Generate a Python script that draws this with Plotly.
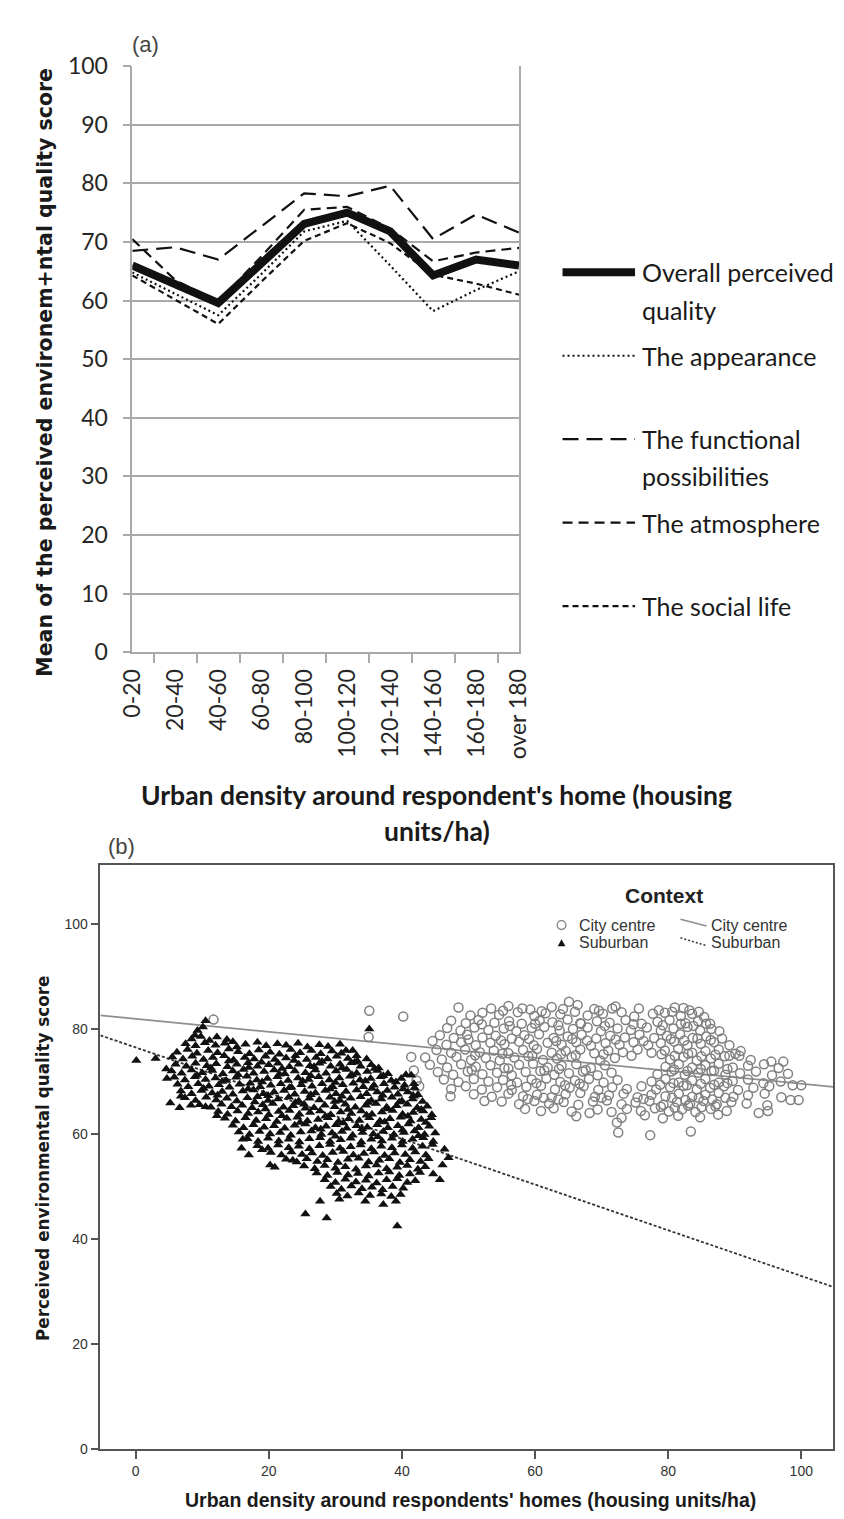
import plotly.graph_objects as go

W, H = 844, 1519

# ---------------- Panel (a) data ----------------
categories = ["0-20", "20-40", "40-60", "60-80", "80-100", "100-120",
              "120-140", "140-160", "160-180", "over 180"]
overall = [66.0, 62.9, 59.6, 66.3, 73.1, 75.0, 71.8, 64.3, 67.0, 66.0]
appearance = [64.8, 61.1, 57.5, 64.5, 71.8, 73.6, 66.0, 58.2, 61.8, 65.0]
functional = [68.5, 69.1, 67.0, 72.7, 78.3, 77.8, 79.6, 70.5, 74.7, 71.6]
atmosphere = [70.5, 63.5, 59.8, 67.5, 75.5, 76.0, 72.3, 66.7, 68.2, 69.0]
social_life = [64.3, 60.1, 56.0, 63.2, 70.2, 73.2, 69.8, 64.4, 62.9, 61.0]
y_ticks_a = [0, 10, 20, 30, 40, 50, 60, 70, 80, 90, 100]

# ---------------- Panel (b) data ----------------
x_ticks_b = [0, 20, 40, 60, 80, 100]
y_ticks_b = [0, 20, 40, 60, 80, 100]
fit_x = [-5.3, 104.8]
city_fit_y = [82.6, 69.0]
suburb_fit_y = [78.8, 30.9]

suburban_pts = [
    (0.1, 74.0), (3.0, 74.4), (10.5, 81.6), (9.3, 79.7), (8.9, 78.8), (10.1, 80.4), (35.1, 80.0),
    (4.6, 72.4), (4.7, 70.6), (5.2, 65.9), (6.8, 67.2), (6.6, 65.0), (8.3, 65.5), (10.5, 65.2), (12.2, 63.5),
    (16.1, 59.0), (15.9, 57.3), (17.0, 56.0), (19.0, 57.0), (20.2, 54.1), (20.9, 53.7), (23.6, 55.0),
    (25.5, 44.8), (28.7, 44.0), (27.7, 47.2), (30.6, 47.6), (34.5, 47.2), (37.2, 46.6), (39.1, 47.2), (39.3, 42.5),
    (44.7, 52.4), (45.7, 51.3), (46.1, 54.1), (46.4, 57.1), (41.4, 71.2), (41.8, 69.6), (47.0, 55.5),
    (8.4, 78.1), (9.8, 78.6), (11.1, 77.8), (12.2, 78.5), (13.7, 78.0), (14.6, 77.6),
    (7.5, 77.2), (9.0, 76.8), (10.4, 77.4), (12.0, 76.9), (13.4, 77.3), (15.2, 76.6), (16.5, 77.1), (18.3, 77.5),
    (19.6, 76.8), (21.3, 77.2), (22.6, 76.9), (24.4, 77.3), (25.8, 76.6), (27.6, 77.0), (28.9, 76.7), (30.7, 77.1), (31.6, 75.9),
    (6.2, 75.6), (7.8, 76.1), (9.2, 75.4), (10.9, 75.9), (12.3, 75.5), (14.0, 76.2), (15.4, 75.7), (17.1, 75.3),
    (18.5, 76.0), (20.2, 75.6), (21.6, 75.2), (23.3, 76.1), (24.7, 75.5), (26.4, 75.9), (27.8, 75.3), (29.5, 75.8),
    (30.9, 75.4), (32.6, 75.9), (33.2, 74.9),
    (5.5, 74.7), (7.1, 74.3), (8.5, 74.8), (10.2, 74.2), (11.6, 74.6), (13.3, 74.9), (14.7, 74.1), (16.4, 74.6),
    (17.8, 74.3), (19.5, 74.8), (20.9, 74.2), (22.6, 74.5), (24.0, 74.9), (25.7, 74.2), (27.1, 74.6), (28.8, 74.3),
    (30.2, 74.8), (31.9, 74.4), (33.3, 73.9), (34.7, 74.3),
    (14.0, 73.9), (18.9, 73.7), (23.8, 74.0), (28.0, 73.8), (32.9, 73.7),
    (6.0, 73.3), (7.6, 72.9), (9.0, 73.5), (10.7, 73.0), (12.1, 73.4), (13.8, 72.8), (15.2, 73.3), (16.9, 73.6),
    (18.3, 72.9), (20.0, 73.2), (21.4, 73.5), (23.1, 72.8), (24.5, 73.3), (26.2, 73.0), (27.6, 73.5), (29.3, 72.9),
    (30.7, 73.3), (32.4, 73.6), (33.8, 72.9), (35.4, 73.2), (36.5, 72.6),
    (11.3, 72.6), (17.0, 72.7), (22.0, 72.5), (26.8, 72.8), (31.0, 72.6), (35.9, 72.5),
    (5.4, 72.0), (6.9, 71.6), (8.4, 72.2), (10.0, 71.7), (11.5, 72.1), (13.1, 71.5), (14.6, 72.0), (16.2, 72.3),
    (17.7, 71.6), (19.3, 71.9), (20.8, 72.2), (22.4, 71.5), (23.9, 72.0), (25.5, 71.7), (27.0, 72.2), (28.6, 71.6),
    (30.1, 72.0), (31.7, 72.3), (33.2, 71.6), (34.8, 71.9), (36.3, 72.1), (37.9, 71.5),
    (9.2, 71.2), (15.4, 71.3), (21.6, 71.4), (26.3, 71.1), (32.5, 71.3), (37.2, 71.1),
    (5.8, 70.8), (7.4, 70.3), (8.9, 70.9), (10.5, 70.4), (12.0, 70.7), (13.6, 70.2), (15.1, 70.8), (16.7, 71.0),
    (18.2, 70.3), (19.8, 70.6), (21.3, 70.9), (22.9, 70.2), (24.4, 70.7), (26.0, 70.4), (27.5, 70.9), (29.1, 70.3),
    (30.6, 70.7), (32.2, 71.0), (33.7, 70.3), (35.3, 70.6), (36.8, 70.9), (38.4, 70.2), (39.9, 70.6), (40.6, 71.3),
    (13.0, 70.0), (19.0, 69.9), (25.1, 70.1), (30.0, 69.8), (34.5, 70.1), (39.1, 69.9),
    (6.3, 69.5), (7.9, 69.0), (9.4, 69.6), (11.0, 69.1), (12.5, 69.4), (14.1, 68.9), (15.6, 69.5), (17.2, 69.7),
    (18.7, 69.0), (20.3, 69.3), (21.8, 69.6), (23.4, 68.9), (24.9, 69.4), (26.5, 69.1), (28.0, 69.6), (29.6, 69.0),
    (31.1, 69.4), (32.7, 69.7), (34.2, 69.0), (35.8, 69.3), (37.3, 69.6), (38.9, 68.9), (40.4, 69.3), (41.9, 68.8),
    (10.2, 68.7), (16.9, 68.6), (23.1, 68.8), (29.2, 68.6), (35.5, 68.7), (40.2, 68.6),
    (6.8, 68.2), (8.4, 67.7), (9.9, 68.3), (11.5, 67.8), (13.0, 68.1), (14.6, 67.6), (16.1, 68.2), (17.7, 68.4),
    (19.2, 67.7), (20.8, 68.0), (22.3, 68.3), (23.9, 67.6), (25.4, 68.1), (27.0, 67.8), (28.5, 68.3), (30.1, 67.7),
    (31.6, 68.1), (33.2, 68.4), (34.7, 67.7), (36.3, 68.0), (37.8, 68.3), (39.4, 67.6), (40.9, 68.0), (42.4, 67.5),
    (12.3, 67.4), (19.9, 67.3), (26.3, 67.5), (31.0, 67.2), (37.1, 67.4), (41.7, 67.3),
    (7.4, 66.9), (9.0, 66.4), (10.6, 67.0), (12.1, 66.5), (13.7, 66.8), (15.2, 66.3), (16.8, 66.9), (18.3, 67.1),
    (19.9, 66.4), (21.4, 66.7), (23.0, 67.0), (24.5, 66.3), (26.1, 66.8), (27.6, 66.5), (29.2, 67.0), (30.7, 66.4),
    (32.3, 66.8), (33.8, 67.1), (35.4, 66.4), (36.9, 66.7), (38.5, 67.0), (40.0, 66.3), (41.6, 66.7), (43.1, 66.2),
    (17.9, 66.1), (24.0, 66.0), (29.9, 66.2), (34.9, 66.0), (39.6, 66.1),
    (9.6, 65.6), (11.3, 65.1), (12.9, 65.7), (14.4, 65.2), (16.0, 65.5), (17.5, 65.0), (19.1, 65.6), (20.6, 65.8),
    (22.2, 65.1), (23.7, 65.4), (25.3, 65.7), (26.8, 65.0), (28.4, 65.5), (29.9, 65.2), (31.5, 65.7), (33.0, 65.1),
    (34.6, 65.5), (36.1, 65.8), (37.7, 65.1), (39.2, 65.4), (40.8, 65.7), (42.3, 65.0), (43.8, 65.3),
    (19.5, 64.8), (25.5, 64.9), (31.9, 64.7), (37.9, 64.8), (42.9, 64.7),
    (12.4, 64.3), (13.8, 63.8), (15.3, 64.4), (16.9, 63.9), (18.4, 64.2), (20.0, 63.7), (21.5, 64.3), (23.1, 64.5),
    (24.6, 63.8), (26.2, 64.1), (27.7, 64.4), (29.3, 63.7), (30.8, 64.2), (32.4, 63.9), (33.9, 64.4), (35.5, 63.8),
    (37.0, 64.2), (38.6, 64.5), (40.1, 63.8), (41.7, 64.1), (43.2, 64.4), (44.5, 63.7),
    (22.0, 63.5), (28.5, 63.4), (34.7, 63.6), (40.9, 63.4),
    (13.4, 63.0), (15.0, 62.5), (16.5, 63.1), (18.1, 62.6), (19.6, 62.9), (21.2, 62.4), (22.7, 63.0), (24.3, 63.2),
    (25.8, 62.5), (27.4, 62.8), (28.9, 63.1), (30.5, 62.4), (32.0, 62.9), (33.6, 62.6), (35.1, 63.1), (36.7, 62.5),
    (38.2, 62.9), (39.8, 63.2), (41.3, 62.5), (42.9, 62.8), (44.4, 63.1),
    (24.7, 62.2), (31.2, 62.1), (37.4, 62.3), (43.6, 62.2),
    (14.6, 61.7), (16.2, 61.2), (17.7, 61.8), (19.3, 61.3), (20.8, 61.6), (22.4, 61.1), (23.9, 61.7), (25.5, 61.9),
    (27.0, 61.2), (28.6, 61.5), (30.1, 61.8), (31.7, 61.1), (33.2, 61.6), (34.8, 61.3), (36.3, 61.8), (37.9, 61.2),
    (39.4, 61.6), (41.0, 61.9), (42.5, 61.2), (44.1, 61.5),
    (27.8, 60.9), (34.0, 61.0), (40.1, 60.8),
    (15.5, 60.4), (17.1, 59.9), (18.6, 60.5), (20.2, 60.0), (21.7, 60.3), (23.3, 59.8), (24.8, 60.4), (26.4, 60.6),
    (27.9, 59.9), (29.5, 60.2), (31.0, 60.5), (32.6, 59.8), (34.1, 60.3), (35.7, 60.0), (37.2, 60.5), (38.8, 59.9),
    (40.3, 60.3), (41.9, 60.6), (43.4, 59.9), (45.0, 60.2),
    (30.0, 59.6), (36.4, 59.5), (42.5, 59.7),
    (16.8, 59.1), (18.4, 58.6), (19.9, 59.2), (21.5, 58.7), (23.0, 59.0), (24.6, 58.5), (26.1, 59.1), (27.7, 59.3),
    (29.2, 58.6), (30.8, 58.9), (32.3, 59.2), (33.9, 58.5), (35.4, 59.0), (37.0, 58.7), (38.5, 59.2), (40.1, 58.6),
    (41.6, 59.0), (43.2, 59.3), (44.7, 58.6),
    (18.3, 57.8), (19.9, 57.3), (21.4, 57.9), (23.0, 57.4), (24.5, 57.7), (26.1, 57.2), (27.6, 57.8), (29.2, 58.0),
    (30.7, 57.3), (32.3, 57.6), (33.8, 57.9), (35.4, 57.2), (36.9, 57.7), (38.5, 57.4), (40.0, 57.9), (41.6, 57.3),
    (43.1, 57.7), (44.6, 58.0),
    (20.3, 56.5), (21.9, 56.0), (23.4, 56.6), (25.0, 56.1), (26.5, 56.4), (28.1, 55.9), (29.6, 56.5), (31.2, 56.7),
    (32.7, 56.0), (34.3, 56.3), (35.8, 56.6), (37.4, 55.9), (38.9, 56.4), (40.5, 56.1), (42.0, 56.6), (43.6, 56.0),
    (22.6, 55.2), (24.2, 54.7), (25.7, 55.3), (27.3, 54.8), (28.8, 55.1), (30.4, 54.6), (31.9, 55.2), (33.5, 55.4),
    (35.0, 54.7), (36.6, 55.0), (38.1, 55.3), (39.7, 54.6), (41.2, 55.1), (42.8, 54.8), (44.0, 55.3),
    (25.3, 53.9), (26.9, 53.4), (28.4, 54.0), (30.0, 53.5), (31.5, 53.8), (33.1, 53.3), (34.6, 53.9), (36.2, 54.1),
    (37.7, 53.4), (39.3, 53.7), (40.8, 54.0), (42.4, 53.3), (43.5, 53.8),
    (27.2, 52.6), (28.8, 52.1), (30.3, 52.7), (31.9, 52.2), (33.4, 52.5), (35.0, 52.0), (36.5, 52.6), (38.1, 52.8),
    (39.6, 52.1), (41.2, 52.4), (42.7, 52.7),
    (28.4, 51.3), (30.0, 50.8), (31.5, 51.4), (33.1, 50.9), (34.6, 51.2), (36.2, 50.7), (37.7, 51.3), (39.3, 51.5),
    (40.8, 50.8), (42.0, 51.1),
    (29.3, 50.0), (30.9, 49.5), (32.4, 50.1), (34.0, 49.6), (35.5, 49.9), (37.1, 49.4), (38.6, 50.0), (40.2, 49.7),
    (30.2, 48.7), (31.8, 48.2), (33.5, 48.8), (35.2, 48.3), (36.9, 48.6), (38.4, 48.1), (39.8, 48.5),
]

city_pts = [
    (11.7, 81.8), (35.1, 83.5), (35.0, 78.5), (40.2, 82.4), (41.4, 74.7),
    (48.5, 84.1), (53.4, 83.9), (56.0, 84.4), (59.3, 83.7), (62.5, 84.2), (65.1, 85.2), (66.4, 84.6), (68.9, 83.8),
    (72.1, 84.3), (75.6, 83.9), (80.6, 83.3), (82.3, 84.0), (84.6, 83.3),
    (55.2, 83.5), (58.1, 83.9), (61.0, 83.4), (64.2, 83.8), (69.6, 83.5), (71.6, 83.9), (78.6, 83.6), (81.0, 84.1), (83.2, 83.6),
    (50.3, 82.6), (52.1, 83.1), (54.6, 82.7), (57.4, 83.2), (59.9, 82.5), (61.6, 83.0), (63.8, 82.8), (66.0, 83.3),
    (67.9, 82.6), (70.2, 82.9), (73.0, 83.2), (74.9, 82.4), (77.7, 82.9), (79.5, 83.1), (81.9, 82.5), (83.6, 82.9), (85.4, 82.3),
    (47.4, 81.6), (49.6, 81.1), (51.5, 81.7), (53.9, 81.2), (56.1, 81.5), (58.0, 81.0), (60.7, 81.6), (62.6, 81.3),
    (64.9, 81.8), (66.8, 81.1), (69.3, 81.5), (71.2, 81.2), (73.6, 81.7), (76.0, 81.0), (78.4, 81.4), (80.2, 81.7),
    (82.6, 81.1), (84.5, 81.5), (86.3, 81.0), (87.7, 79.6),
    (52.0, 80.9), (56.2, 80.6), (60.0, 81.0), (63.5, 80.7), (66.9, 81.0), (70.5, 80.6), (74.8, 80.9), (79.2, 80.7),
    (81.9, 81.0), (83.8, 80.6), (85.7, 81.0),
    (46.8, 80.2), (48.8, 79.7), (50.9, 80.3), (53.0, 79.8), (55.3, 80.1), (57.2, 79.6), (59.5, 80.2), (61.4, 80.4),
    (63.7, 79.7), (65.7, 80.0), (67.9, 80.3), (69.9, 79.6), (72.4, 80.1), (74.4, 79.8), (76.8, 80.3), (78.9, 79.7),
    (80.8, 80.1), (82.9, 80.4), (84.8, 79.7), (86.5, 80.0),
    (45.7, 78.8), (47.8, 78.3), (49.8, 78.9), (52.1, 78.4), (54.1, 78.7), (56.5, 78.2), (58.4, 78.8), (60.6, 79.0),
    (62.8, 78.3), (64.9, 78.6), (67.0, 78.9), (69.2, 78.2), (71.3, 78.7), (73.5, 78.4), (75.7, 78.9), (77.9, 78.3),
    (79.8, 78.7), (81.8, 79.0), (83.7, 78.3), (85.7, 78.6), (88.1, 78.2),
    (50.0, 78.0), (54.9, 77.8), (59.1, 78.1), (63.2, 77.7), (65.6, 78.1), (67.8, 77.8), (72.1, 78.0), (76.3, 77.7),
    (80.4, 78.1), (82.4, 77.8), (84.4, 78.2), (86.4, 77.9),
    (44.6, 77.7), (46.7, 77.0), (48.9, 77.5), (51.1, 76.9), (53.3, 77.4), (55.4, 77.1), (57.6, 77.6), (59.8, 76.9),
    (61.9, 77.4), (64.0, 77.0), (66.2, 77.5), (68.4, 76.8), (70.6, 77.3), (72.7, 77.0), (74.8, 77.5), (77.0, 76.9),
    (78.9, 77.3), (80.9, 77.6), (82.9, 76.9), (84.9, 77.2), (86.9, 77.5), (89.2, 76.9),
    (45.2, 76.0), (47.4, 75.5), (49.5, 76.1), (51.7, 75.6), (53.8, 75.9), (56.0, 75.4), (58.2, 76.0), (60.3, 76.2),
    (62.5, 75.5), (64.6, 75.8), (66.8, 76.1), (68.9, 75.4), (71.0, 75.9), (73.2, 75.6), (75.4, 76.1), (77.5, 75.5),
    (79.5, 75.9), (81.5, 76.2), (83.6, 75.5), (85.6, 75.8), (87.6, 76.1), (90.1, 75.3), (90.9, 75.8),
    (51.0, 75.0), (55.1, 75.3), (59.6, 74.9), (63.9, 75.2), (66.1, 75.0), (70.3, 75.2), (74.5, 74.9), (79.0, 75.2),
    (81.0, 74.9), (83.0, 75.3), (85.0, 74.8), (87.1, 75.1), (89.2, 74.9),
    (43.5, 74.6), (46.0, 74.2), (48.2, 74.7), (50.4, 74.1), (52.6, 74.5), (54.7, 74.0), (56.9, 74.6), (59.0, 74.8),
    (61.2, 74.1), (63.3, 74.4), (65.5, 74.7), (69.8, 74.0), (72.0, 74.5), (80.3, 74.2), (82.3, 74.7), (84.3, 74.0),
    (86.4, 74.4), (88.5, 74.8), (90.7, 74.9), (92.4, 74.1), (95.5, 73.8), (97.3, 73.8),
    (44.2, 73.2), (46.8, 72.7), (48.9, 73.3), (51.1, 72.8), (53.3, 73.1), (55.4, 72.6), (57.6, 73.2), (59.7, 73.4),
    (61.9, 72.7), (64.0, 73.0), (66.2, 73.3), (68.4, 72.6), (70.5, 73.1), (79.6, 72.8), (81.6, 73.3), (83.6, 72.7),
    (85.6, 73.1), (87.6, 73.4), (89.7, 72.7), (92.0, 73.0), (94.4, 73.3), (96.6, 72.6),
    (50.5, 72.2), (56.0, 72.5), (61.4, 72.1), (63.6, 72.4), (67.6, 72.2), (80.9, 72.3), (82.9, 72.0), (84.9, 72.4),
    (86.9, 72.1), (88.9, 72.4),
    (41.8, 72.1), (45.4, 71.8), (47.7, 71.3), (49.9, 71.9), (52.1, 71.4), (54.3, 71.7), (56.5, 71.2), (58.6, 71.8),
    (60.8, 72.0), (62.9, 71.3), (65.1, 71.6), (67.2, 71.9), (69.4, 71.2), (71.5, 71.7), (78.4, 71.4), (80.5, 71.9),
    (82.5, 71.3), (84.5, 71.7), (86.5, 72.0), (88.6, 71.3), (90.8, 71.6), (93.2, 71.9), (95.6, 71.2), (98.0, 71.5),
    (42.2, 70.2), (46.3, 70.4), (48.5, 69.9), (50.8, 70.5), (53.0, 70.0), (55.2, 70.3), (57.3, 69.8), (59.5, 70.4),
    (61.7, 70.6), (63.8, 69.9), (66.0, 70.2), (68.1, 70.5), (70.3, 69.8), (72.4, 70.3), (77.5, 70.0), (79.6, 70.5),
    (81.6, 69.8), (83.6, 70.2), (85.6, 70.5), (87.6, 69.8), (89.7, 70.1), (92.0, 70.4), (94.3, 69.7), (96.9, 70.0),
    (100.0, 69.3), (98.7, 69.3),
    (56.4, 69.4), (60.2, 69.7), (64.5, 69.3), (66.7, 69.6), (78.8, 69.4), (80.8, 69.7), (82.8, 69.3), (84.9, 69.6),
    (86.9, 69.4), (88.9, 69.7),
    (42.6, 69.1), (47.4, 68.6), (49.6, 69.1), (52.0, 68.5), (54.3, 68.9), (56.5, 68.4), (58.7, 69.0), (60.9, 69.2),
    (63.0, 68.5), (65.2, 68.8), (67.3, 69.1), (69.5, 68.4), (71.6, 68.9), (73.8, 68.6), (76.0, 69.1), (78.2, 68.5),
    (80.3, 68.9), (82.3, 69.2), (84.3, 68.5), (86.3, 68.8), (88.4, 69.1), (90.5, 68.4), (92.8, 68.8), (95.2, 69.1),
    (42.0, 67.5), (47.3, 67.2), (50.8, 67.6), (53.5, 67.1), (56.0, 67.7), (58.2, 67.2), (60.3, 67.5), (62.5, 67.0),
    (64.6, 67.6), (66.8, 67.8), (69.0, 67.1), (71.1, 67.4), (73.3, 67.7), (75.4, 67.0), (77.5, 67.5), (79.6, 67.2),
    (81.6, 67.7), (83.6, 67.1), (85.6, 67.5), (87.6, 67.8), (89.8, 67.1), (92.0, 67.4), (94.5, 67.7), (97.0, 67.0),
    (98.4, 66.5), (99.6, 66.5),
    (58.9, 66.7), (61.3, 66.9), (63.5, 66.6), (70.0, 66.9), (76.3, 66.7), (80.6, 66.9), (82.6, 66.5), (84.6, 66.9),
    (86.6, 66.6), (88.6, 66.9),
    (52.4, 66.3), (55.0, 66.2), (57.6, 65.7), (59.9, 66.3), (62.1, 65.8), (64.3, 66.1), (66.5, 65.6), (68.7, 66.2),
    (70.8, 66.4), (73.0, 65.7), (75.1, 66.0), (77.2, 66.3), (79.3, 65.6), (81.3, 66.1), (83.3, 65.8), (85.3, 66.3),
    (87.3, 65.7), (89.5, 66.1), (91.8, 65.8),
    (78.9, 65.2), (81.0, 65.0), (83.0, 65.4), (85.0, 65.1), (87.1, 65.3),
    (58.5, 64.8), (60.9, 64.4), (62.8, 64.9), (65.5, 64.3), (68.2, 64.0), (69.4, 64.7), (71.5, 64.2), (73.8, 64.8),
    (75.9, 64.4), (78.0, 64.9), (80.1, 64.3), (82.1, 64.7), (84.1, 64.2), (86.4, 64.8), (88.8, 64.4), (93.6, 64.0),
    (95.0, 64.4), (94.9, 65.5),
    (66.2, 63.4), (73.0, 63.1), (76.5, 63.6), (79.2, 63.0), (81.5, 63.5), (84.8, 63.2), (87.5, 63.7),
    (72.3, 62.2), (72.5, 60.3), (77.3, 59.8), (83.4, 60.5),
]

sub_x = [p[0] for p in suburban_pts]
sub_y = [p[1] for p in suburban_pts]
city_x = [p[0] for p in city_pts]
city_y = [p[1] for p in city_pts]


def px(x):
    return x / W


def py(y):
    return 1 - y / H


GRID = "#a9a9a9"
AXB = "#555555"
CAL = "Lato, 'Open Sans', sans-serif"
VER = "'DejaVu Sans', Verdana, sans-serif"
ARI = "'Liberation Sans', Arial, sans-serif"

fig = go.Figure()

# ---- panel (a) lines ----
fig.add_trace(go.Scatter(x=categories, y=social_life, mode="lines",
                         line=dict(color="#111", width=2.2, dash="6px,4px"),
                         xaxis="x", yaxis="y", showlegend=False))
fig.add_trace(go.Scatter(x=categories, y=atmosphere, mode="lines",
                         line=dict(color="#111", width=2.2, dash="10px,6px"),
                         xaxis="x", yaxis="y", showlegend=False))
fig.add_trace(go.Scatter(x=categories, y=functional, mode="lines",
                         line=dict(color="#111", width=2.2, dash="16px,8px"),
                         xaxis="x", yaxis="y", showlegend=False))
fig.add_trace(go.Scatter(x=categories, y=appearance, mode="lines",
                         line=dict(color="#111", width=2.2, dash="2px,3px"),
                         xaxis="x", yaxis="y", showlegend=False))
fig.add_trace(go.Scatter(x=categories, y=overall, mode="lines",
                         line=dict(color="#111", width=8),
                         xaxis="x", yaxis="y", showlegend=False))

# ---- panel (b) ----
fig.add_trace(go.Scatter(x=fit_x, y=city_fit_y, mode="lines",
                         line=dict(color="#8f8f8f", width=1.8),
                         xaxis="x2", yaxis="y2", showlegend=False))
fig.add_trace(go.Scatter(x=fit_x, y=suburb_fit_y, mode="lines",
                         line=dict(color="#333", width=1.8, dash="3px,2px"),
                         xaxis="x2", yaxis="y2", showlegend=False))
fig.add_trace(go.Scatter(x=city_x, y=city_y, mode="markers",
                         marker=dict(symbol="circle-open", size=9, color="#808080",
                                     line=dict(width=1.5, color="#808080")),
                         xaxis="x2", yaxis="y2", showlegend=False))
fig.add_trace(go.Scatter(x=sub_x, y=sub_y, mode="markers",
                         marker=dict(symbol="triangle-up", size=9, color="#111",
                                     line=dict(width=0)),
                         xaxis="x2", yaxis="y2", showlegend=False))

annotations = []
shapes = []


def text(x, y, s, size, family, color="#1a1a1a", xanchor="left", angle=0, bold=False):
    if bold:
        s = "<b>" + s + "</b>"
    annotations.append(dict(x=px(x), y=py(y), xref="paper", yref="paper", text=s,
                            showarrow=False, xanchor=xanchor, yanchor="middle",
                            textangle=angle,
                            font=dict(size=size, family=family, color=color)))


# panel (a) labels
text(110, 22, "(a)", 22, ARI, color="#444")
text(22, 356, "Mean of the perceived environem+ntal quality score", 20.5, VER,
     xanchor="center", angle=-90, bold=True)
text(427, 787, "Urban density around respondent's home (housing", 26.5, CAL,
     xanchor="center", bold=True)
text(427, 823, "units/ha)", 26.5, CAL, xanchor="center", bold=True)

# panel (a) legend
leg_items = [
    (254, ["Overall perceived", "quality"], dict(width=8, color="#111")),
    (339, ["The appearance"], dict(width=2.2, color="#111", dash="2px,3px")),
    (424, ["The functional", "possibilities"], dict(width=2.2, color="#111", dash="16px,8px")),
    (509, ["The atmosphere"], dict(width=2.2, color="#111", dash="10px,6px")),
    (594, ["The social life"], dict(width=2.2, color="#111", dash="6px,4px")),
]
for yy, lines, ln in leg_items:
    shapes.append(dict(type="line", xref="paper", yref="paper",
                       x0=px(557), x1=px(632), y0=py(yy), y1=py(yy), line=ln))
    for i, s in enumerate(lines):
        text(637, yy + 38 * i, s, 25, CAL)

# panel (b) labels
text(85, 839, "(b)", 22, ARI, color="#444")
text(19, 1157, "Perceived environmental quality score", 16.8, VER,
     xanchor="center", angle=-90, bold=True)
text(462, 1505, "Urban density around respondents' homes (housing units/ha)", 19.5, ARI,
     xanchor="center", bold=True)
text(662, 889, "Context", 21, ARI, xanchor="center", bold=True, color="#222")
text(572, 919, "City centre", 16, ARI, color="#333")
text(572, 937, "Suburban", 16, ARI, color="#333")
text(708, 919, "City centre", 16, ARI, color="#333")
text(708, 937, "Suburban", 16, ARI, color="#333")

shapes.append(dict(type="circle", xref="paper", yref="paper",
                   x0=px(551.5), x1=px(560.5), y0=py(923.5), y1=py(914.5),
                   line=dict(color="#808080", width=1.3)))
shapes.append(dict(type="path", xref="paper", yref="paper",
                   path="M {:.5f},{:.5f} L {:.5f},{:.5f} L {:.5f},{:.5f} Z".format(
                       px(552), py(940.5), px(560), py(940.5), px(556), py(933.5)),
                   fillcolor="#111", line=dict(width=0)))
shapes.append(dict(type="line", xref="paper", yref="paper",
                   x0=px(679), y0=py(913), x1=px(706), y1=py(920),
                   line=dict(color="#8f8f8f", width=1.5)))
shapes.append(dict(type="line", xref="paper", yref="paper",
                   x0=px(679), y0=py(932), x1=px(706), y1=py(940),
                   line=dict(color="#333", width=1.5, dash="2px,2px")))

fig.update_layout(
    width=W, height=H,
    margin=dict(l=0, r=0, t=0, b=0),
    paper_bgcolor="white", plot_bgcolor="white",
    showlegend=False,
    annotations=annotations, shapes=shapes,
    xaxis=dict(domain=[px(112), px(512)], anchor="y", type="category",
               tickson="boundaries", ticks="outside", ticklen=9, tickwidth=1.5,
               tickcolor=GRID, showline=True, linecolor=GRID, linewidth=1.5,
               showgrid=False, zeroline=False, tickangle=-90,
               ticklabelstandoff=6,
               tickfont=dict(family=CAL, size=23, color="#262626")),
    yaxis=dict(domain=[py(641), py(44)], anchor="x", range=[0, 100],
               tickvals=y_ticks_a, showgrid=True, gridcolor=GRID, gridwidth=1.5,
               ticks="outside", ticklen=8, tickwidth=1.5, tickcolor=GRID,
               showline=True, linecolor=GRID, linewidth=1.5, mirror=True,
               zeroline=False, ticklabelstandoff=10,
               tickfont=dict(family=CAL, size=23, color="#262626")),
    xaxis2=dict(domain=[px(79), px(837)], anchor="y2", range=[-5.3, 104.8],
                tickvals=x_ticks_b, ticks="outside", ticklen=8, tickwidth=1.5,
                tickcolor=AXB, showline=True, mirror=True, linecolor=AXB,
                linewidth=1.5, showgrid=False, zeroline=False,
                tickfont=dict(family=ARI, size=14, color="#333")),
    yaxis2=dict(domain=[py(1453), py(858)], anchor="x2", range=[0, 111.2],
                tickvals=y_ticks_b, ticks="outside", ticklen=8, tickwidth=1.5,
                tickcolor=AXB, showline=True, mirror=True, linecolor=AXB,
                linewidth=1.5, showgrid=False, zeroline=False,
                tickfont=dict(family=ARI, size=14, color="#333")),
)

fig.write_html("out.html")
